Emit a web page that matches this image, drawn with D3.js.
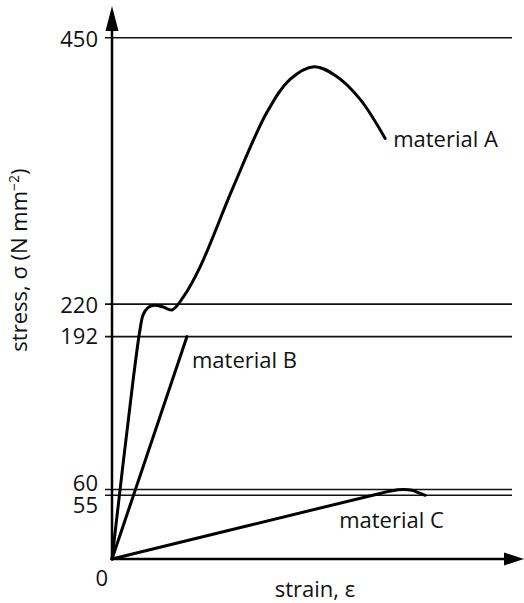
<!DOCTYPE html>
<html lang="en">
<head>
  <meta charset="UTF-8">
  <title>Stress-strain curves</title>
  <script src="https://cdnjs.cloudflare.com/ajax/libs/d3/7.8.5/d3.min.js"></script>
  <style>
    body { margin: 0; background: #fff; }
    text { font-family: "Open Sans", "Noto Sans", sans-serif; fill: #111; }
    .grid { stroke: #111; stroke-width: 1.6px; }
    .curve { fill: none; stroke: #000; stroke-width: 3px; stroke-linejoin: round; stroke-linecap: round; }
    .axis { stroke: #000; stroke-width: 2.5px; }
  </style>
</head>
<body>
  <div id="chart"></div>
  <script>
    // stress levels marked on the y axis (N mm^-2)
    const levels = [450, 220, 192, 60, 55];
    const tickLabels = ["0", "55", "60", "192", "220", "450"];

    // material A (strain in arbitrary units, no ticks on the x axis)
    const strainA = [0, 5.3, 7, 7.8, 9, 10.5, 12.8, 15, 17.8, 22, 30.3, 38.8, 44.5, 50.5, 56, 62, 68.3];
    const stressA = [0, 155, 198, 211, 217, 219, 217.5, 215, 226, 252, 321, 386, 414, 425, 417, 397, 363];

    // material B - straight line up to fracture
    const strainB = [0, 18.75];
    const stressB = [0, 192];

    // material C
    const strainC = [0, 67, 70, 72.75, 75, 76.8, 78.3];
    const stressC = [0, 56.6, 59, 60, 59.3, 57, 55];

    const width = 524;
    const height = 603;

    const svg = d3.select("#chart")
      .append("svg")
      .attr("width", width)
      .attr("height", height);

    const x = d3.scaleLinear().domain([0, 100]).range([112, 512]);
    const y = d3.scaleLinear().domain([0, 450]).range([559, 37.7]);

    // horizontal reference lines
    svg.selectAll(".grid")
      .data(levels)
      .join("line")
      .attr("class", "grid")
      .attr("x1", x(0) - 7)
      .attr("x2", x(100))
      .attr("y1", d => y(d))
      .attr("y2", d => y(d));

    // axes with arrow heads
    svg.append("line").attr("class", "axis")
      .attr("x1", x(0)).attr("y1", y(0)).attr("x2", x(0)).attr("y2", 20);
    svg.append("path")
      .attr("d", `M${x(0)},6 L${x(0) - 6.5},31 L${x(0) + 6.5},31 Z`)
      .attr("fill", "#000");
    svg.append("line").attr("class", "axis")
      .attr("x1", x(0)).attr("y1", y(0)).attr("x2", 510).attr("y2", y(0));
    svg.append("path")
      .attr("d", `M524,${y(0)} L504,${y(0) - 6.5} L504,${y(0) + 6.5} Z`)
      .attr("fill", "#000");

    // tick labels (60 sits just above its line, 55 below)
    const nudge = { "0": 0, "55": 18, "60": 1.5, "192": 7, "220": 9, "450": 9 };
    svg.selectAll(".tick-label")
      .data(tickLabels)
      .join("text")
      .attr("class", "tick-label")
      .attr("x", d => d === "0" ? x(0) - 4 : x(0) - 14)
      .attr("y", d => d === "0" ? y(0) + 27 : y(+d) + nudge[d])
      .attr("text-anchor", "end")
      .attr("font-size", 22)
      .text(d => d);

    const line = d3.line()
      .x(d => x(d[0]))
      .y(d => y(d[1]))
      .curve(d3.curveCatmullRom.alpha(0.5));

    const series = [
      d3.zip(strainA, stressA),
      d3.zip(strainB, stressB),
      d3.zip(strainC, stressC)
    ];

    svg.selectAll(".curve")
      .data(series)
      .join("path")
      .attr("class", "curve")
      .attr("d", line);

    // curve labels
    const labelFont = 22;
    svg.append("text").attr("x", x(70.3)).attr("y", y(356)).attr("font-size", labelFont).text("material A");
    svg.append("text").attr("x", x(20)).attr("y", y(165)).attr("font-size", labelFont).text("material B");
    svg.append("text").attr("x", x(56.8)).attr("y", y(27)).attr("font-size", labelFont).text("material C");

    // axis titles
    svg.append("text")
      .attr("x", 315)
      .attr("y", 597)
      .attr("text-anchor", "middle")
      .attr("font-size", 22)
      .text("strain, ε");

    const yTitle = svg.append("text")
      .attr("transform", "translate(27,260) rotate(-90)")
      .attr("text-anchor", "middle")
      .attr("font-size", 22);
    yTitle.append("tspan").text("stress, σ (N mm");
    yTitle.append("tspan").attr("font-size", 14).attr("dy", -8).text("−2");
    yTitle.append("tspan").attr("dy", 8).text(")");
  </script>
</body>
</html>
